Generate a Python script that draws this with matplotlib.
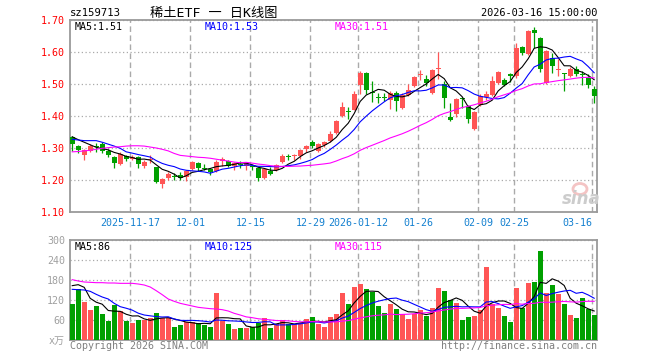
import matplotlib
matplotlib.use("Agg")
import matplotlib.pyplot as plt
from matplotlib.patches import Ellipse
import numpy as np
import pandas as pd

# daily bars 2025-11-03 .. 2026-03-16 (88 trading days)
opens = [1.335, 1.307, 1.277, 1.291, 1.305, 1.311, 1.292, 1.273, 1.250, 1.274,
         1.266, 1.272, 1.244, 1.262, 1.240, 1.189, 1.205, 1.213, 1.215, 1.210,
         1.235, 1.254, 1.238, 1.234, 1.227, 1.259, 1.258, 1.245, 1.249, 1.244,
         1.243, 1.237, 1.205, 1.229, 1.230, 1.255, 1.273, 1.274, 1.276, 1.297,
         1.318, 1.290, 1.310, 1.323, 1.347, 1.401, 1.415, 1.420, 1.498, 1.534,
         1.476, 1.460, 1.460, 1.450, 1.472, 1.425, 1.467, 1.495, 1.527, 1.517,
         1.472, 1.547, 1.501, 1.398, 1.405, 1.457, 1.432, 1.359, 1.435, 1.459,
         1.467, 1.503, 1.514, 1.531, 1.524, 1.616, 1.595, 1.670, 1.644, 1.503,
         1.581, 1.546, 1.533, 1.526, 1.547, 1.530, 1.519, 1.484]
highs = [1.338, 1.310, 1.296, 1.312, 1.315, 1.318, 1.296, 1.275, 1.286, 1.279,
         1.278, 1.275, 1.262, 1.279, 1.242, 1.205, 1.225, 1.223, 1.225, 1.230,
         1.258, 1.256, 1.250, 1.238, 1.264, 1.271, 1.263, 1.256, 1.260, 1.257,
         1.245, 1.240, 1.237, 1.240, 1.251, 1.280, 1.282, 1.282, 1.297, 1.310,
         1.326, 1.317, 1.323, 1.352, 1.389, 1.443, 1.427, 1.477, 1.540, 1.536,
         1.508, 1.472, 1.472, 1.479, 1.478, 1.472, 1.500, 1.524, 1.545, 1.529,
         1.547, 1.600, 1.510, 1.440, 1.456, 1.460, 1.435, 1.417, 1.468, 1.477,
         1.526, 1.540, 1.520, 1.535, 1.628, 1.620, 1.668, 1.678, 1.646, 1.607,
         1.597, 1.578, 1.535, 1.552, 1.555, 1.540, 1.532, 1.493]
lows = [1.290, 1.285, 1.262, 1.288, 1.288, 1.283, 1.272, 1.237, 1.248, 1.258,
        1.263, 1.238, 1.236, 1.252, 1.190, 1.174, 1.201, 1.201, 1.200, 1.198,
        1.232, 1.227, 1.230, 1.217, 1.224, 1.245, 1.241, 1.230, 1.237, 1.230,
        1.232, 1.196, 1.203, 1.217, 1.227, 1.253, 1.262, 1.264, 1.266, 1.287,
        1.300, 1.287, 1.303, 1.320, 1.343, 1.398, 1.392, 1.418, 1.470, 1.470,
        1.445, 1.440, 1.446, 1.422, 1.415, 1.422, 1.464, 1.490, 1.511, 1.493,
        1.470, 1.515, 1.425, 1.383, 1.398, 1.425, 1.378, 1.355, 1.430, 1.450,
        1.463, 1.500, 1.493, 1.506, 1.520, 1.592, 1.592, 1.612, 1.536, 1.500,
        1.534, 1.526, 1.477, 1.522, 1.524, 1.498, 1.487, 1.440]
closes = [1.313, 1.295, 1.293, 1.307, 1.303, 1.291, 1.277, 1.253, 1.282, 1.266,
          1.273, 1.250, 1.256, 1.266, 1.193, 1.202, 1.219, 1.211, 1.207, 1.227,
          1.255, 1.236, 1.236, 1.226, 1.255, 1.267, 1.245, 1.252, 1.247, 1.253,
          1.241, 1.206, 1.234, 1.220, 1.248, 1.274, 1.271, 1.279, 1.293, 1.307,
          1.307, 1.314, 1.318, 1.345, 1.383, 1.428, 1.413, 1.470, 1.534, 1.482,
          1.472, 1.458, 1.457, 1.471, 1.446, 1.467, 1.480, 1.521, 1.530, 1.503,
          1.545, 1.550, 1.456, 1.387, 1.453, 1.455, 1.392, 1.414, 1.461, 1.470,
          1.510, 1.537, 1.496, 1.525, 1.612, 1.597, 1.665, 1.659, 1.548, 1.602,
          1.557, 1.547, 1.531, 1.547, 1.532, 1.528, 1.496, 1.464]
# volume, 10k shares
volumes = [108, 152, 115, 90, 102, 78, 58, 105, 87, 58,
           52, 60, 60, 65, 80, 65, 65, 39, 45, 55,
           55, 50, 45, 39, 142, 58, 48, 33, 36, 36,
           38, 52, 66, 36, 48, 60, 48, 48, 52, 63,
           69, 48, 39, 70, 78, 142, 108, 159, 168, 153,
           145, 102, 81, 108, 93, 78, 63, 78, 90, 72,
           96, 156, 148, 120, 111, 60, 69, 72, 90, 219,
           108, 96, 72, 54, 156, 96, 172, 174, 267, 140,
           165, 138, 108, 75, 66, 126, 93, 75]

# moving-average values before the window is full
ma5_head = [1.335, 1.326, 1.318, 1.310]
ma10_head = [1.327, 1.325, 1.323, 1.323, 1.323, 1.318, 1.312, 1.306, 1.299]
ma30_head = [1.288, 1.289, 1.291, 1.293, 1.296, 1.299, 1.301, 1.303, 1.304, 1.306,
             1.307, 1.307, 1.306, 1.303, 1.300, 1.296, 1.291, 1.283, 1.277, 1.275,
             1.273, 1.271, 1.270, 1.268, 1.265, 1.262, 1.259, 1.256, 1.254]
vma5_head = [163, 166, 158, 125]
vma10_head = [152, 151, 150, 146, 137, 129, 123, 110, 100]
vma30_head = [181, 177, 174, 173, 172, 172, 171, 171, 170, 170,
              170, 168, 165, 159, 148, 136, 123, 116, 110, 106,
              102, 98, 96, 94, 93, 91, 87, 80, 75]

date_idx = [10, 20, 30, 40, 48, 58, 68, 74, 87]
date_labels = ["2025-11-17", "12-01", "12-15", "12-29", "2026-01-12",
               "01-26", "02-09", "02-25", "03-16"]
price_ticks = [1.10, 1.20, 1.30, 1.40, 1.50, 1.60, 1.70]
vol_ticks = [0, 60, 120, 180, 240, 300]
vol_tick_labels = ["x万", "60", "120", "180", "240", "300"]

RED = "#ff5555"
GREEN = "#00a000"
GRID = "#aaaaaa"
FRAME = "#9a9a9a"
DATE_BLUE = "#1480d0"

plt.rcParams['font.family'] = ['DejaVu Sans Mono', 'Noto Sans CJK SC']
plt.rcParams['font.size'] = 7.2


def moving_average(values, n, head):
    ma = pd.Series(values, dtype=float).rolling(n).mean().to_numpy()
    ma[:len(head)] = head
    return ma


def px(xp, yp):
    # pixel position -> figure fraction
    return xp / 660, 1 - yp / 360


fig = plt.figure(figsize=(6.6, 3.6), dpi=100)
ax = fig.add_axes([70 / 660, 1 - 212 / 360, 527 / 660, 192 / 360])
axv = fig.add_axes([70 / 660, 1 - 340 / 360, 527 / 660, 100 / 360])

x = np.arange(len(closes))
o = np.array(opens)
c = np.array(closes)
up = c >= o
colors = np.where(up, RED, GREEN)

# watermark (behind the candles)
fig.add_artist(Ellipse(px(580, 189), 14 / 660, 11 / 360, transform=fig.transFigure,
                       facecolor="none", edgecolor="#f4c4c4", linewidth=2.0, zorder=0))
fig.text(*px(581, 199), "sina", color="#cccccc", ha="center", va="center",
         fontsize=12, fontstyle="italic", fontweight="bold", family="DejaVu Sans",
         zorder=0)
ax.patch.set_alpha(0)

# candles
ax.vlines(x, lows, highs, colors=colors, linewidth=0.9, zorder=3)
diff = np.abs(c - o)
body_h = np.maximum(diff, 0.003)
body_lo = np.where(diff < 0.003, (o + c) / 2 - 0.0015, np.minimum(o, c))
ax.bar(x, body_h, bottom=body_lo, width=0.83, color=colors, linewidth=0, zorder=3)

ax.plot(x, moving_average(closes, 5, ma5_head), color="black", lw=0.8, zorder=4)
ax.plot(x, moving_average(closes, 10, ma10_head), color="#0000ff", lw=0.8, zorder=4)
ax.plot(x, moving_average(closes, 30, ma30_head), color="#ff00ff", lw=0.8, zorder=4)

# volume
axv.bar(x, volumes, width=0.83, color=colors, linewidth=0, zorder=3)
axv.plot(x, moving_average(volumes, 5, vma5_head), color="black", lw=0.8, zorder=4)
axv.plot(x, moving_average(volumes, 10, vma10_head), color="#0000ff", lw=0.8, zorder=4)
axv.plot(x, moving_average(volumes, 30, vma30_head), color="#ff00ff", lw=0.8, zorder=4)

grid_x = [i - 0.3 for i in date_idx]
for a in (ax, axv):
    a.set_xlim(-0.37, 87.47)
    a.set_xticks(grid_x)
    a.grid(axis="x", color=GRID, linestyle=(0, (4, 2.5)), linewidth=1.0)
    a.grid(axis="y", color=GRID, linestyle=(0, (1, 2)), linewidth=0.9)
    a.set_axisbelow(True)
    a.tick_params(length=0)
    for s in a.spines.values():
        s.set_color(FRAME)
        s.set_linewidth(1.3)

ax.set_ylim(1.10, 1.70)
ax.set_yticks(price_ticks)
ax.set_yticklabels([f"{t:.2f}" for t in price_ticks])
ax.tick_params(axis="y", colors="red", pad=3.6)
ax.set_xticklabels(date_labels)
ax.tick_params(axis="x", colors=DATE_BLUE, pad=4)
ax.get_xticklabels()[-1].set_horizontalalignment("right")

axv.set_ylim(0, 300)
axv.set_yticks(vol_ticks)
axv.set_yticklabels(vol_tick_labels)
axv.tick_params(axis="y", colors="#a0a0a0", pad=3.6)
axv.set_xticklabels([])

# header
fig.text(*px(70, 13), "sz159713", ha="left", va="center", fontsize=7.6)
fig.text(*px(150, 13), "稀土ETF 一 日K线图", ha="left", va="center", fontsize=9.5)
fig.text(*px(597, 13), "2026-03-16 15:00:00", ha="right", va="center", fontsize=7.4)

# MA legends
fig.text(*px(75, 27), "MA5:1.51", color="black", va="center")
fig.text(*px(205, 27), "MA10:1.53", color="#0000ff", va="center")
fig.text(*px(335, 27), "MA30:1.51", color="#ff00ff", va="center")
fig.text(*px(75, 246.5), "MA5:86", color="black", va="center")
fig.text(*px(205, 246.5), "MA10:125", color="#0000ff", va="center")
fig.text(*px(335, 246.5), "MA30:115", color="#ff00ff", va="center")

# footer
fig.text(*px(70, 346), "Copyright 2026 SINA.COM", color="#808080", va="center")
fig.text(*px(597, 346), "http://finance.sina.com.cn", color="#808080",
         ha="right", va="center")

fig.savefig("out.png", dpi=100)
